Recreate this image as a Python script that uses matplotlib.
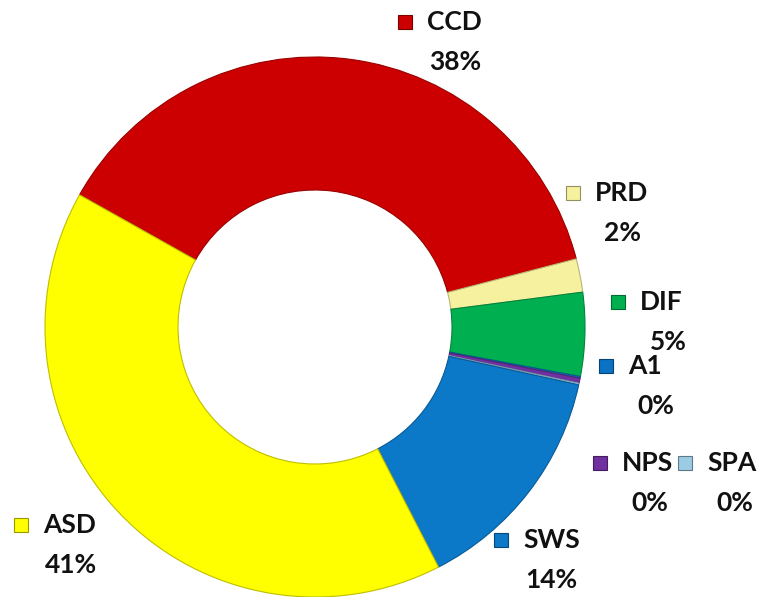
import numpy as np
import matplotlib.pyplot as plt
from matplotlib.patches import Rectangle
from matplotlib.colors import to_rgb

plt.rcParams['font.family'] = ['Lato', 'DejaVu Sans']

# slices, clockwise from the upper-left boundary
names = ['CCD', 'PRD', 'DIF', 'A1', 'NPS', 'SPA', 'SWS', 'ASD']
shares = [37.8, 2.0, 5.0, 0.1, 0.3, 0.1, 14.0, 40.7]
colors = ['#CC0000', '#F6F19E', '#00B050', '#0B72C4', '#7030A0', '#9CCBE4', '#0B78C8', '#FFFF00']

# label anchor (marker left edge, label row) in pixels from top-left
label_pos = [(398, 22), (566, 193), (611, 302), (599, 366),
             (593, 463), (678, 463), (494, 540), (14, 525)]

W, H = 765, 597
fig = plt.figure(figsize=(W/100, H/100), dpi=100)
ax = fig.add_axes([0, 0, 1, 1])

def darker(c, f=0.7):
    r, g, b = to_rgb(c)
    return (r*f, g*f, b*f)

wedges, _ = ax.pie(shares, colors=colors, radius=270, center=(315, H - 327),
                   startangle=150.7, counterclock=False,
                   wedgeprops=dict(width=133, linewidth=0.8), frame=False)
for w, c in zip(wedges, colors):
    w.set_edgecolor(darker(c, 0.75))

total = sum(shares)
for name, val, c, (x, y) in zip(names, shares, colors, label_pos):
    ax.add_patch(Rectangle((x, H - y - 7), 14, 14, facecolor=c,
                           edgecolor=darker(c, 0.6), linewidth=0.8))
    ax.text(x + 29, H - y, name, fontsize=19, fontweight='bold',
            ha='left', va='center', color='#111111')
    ax.text(x + 29 + 28, H - y - 40, f'{val/total*100:.0f}%', fontsize=19,
            fontweight='bold', ha='center', va='center', color='#111111')

ax.set_xlim(0, W)
ax.set_ylim(0, H)
ax.set_aspect('equal')
ax.axis('off')

fig.savefig('out.png', dpi=100)
